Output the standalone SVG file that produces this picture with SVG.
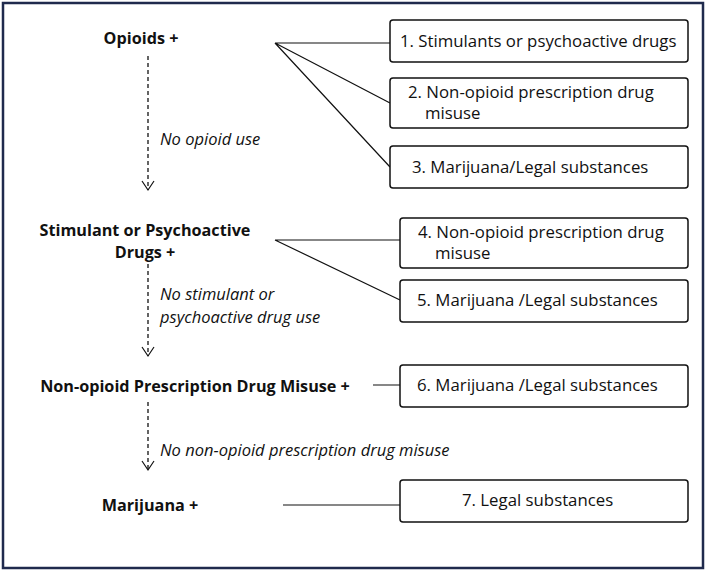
<svg xmlns="http://www.w3.org/2000/svg" width="706" height="571" viewBox="0 0 706 571">
<style>
text{font-family:"Open Sans","Liberation Sans",sans-serif;font-size:16.8px;fill:#111}
.b{font-weight:bold;font-size:16.2px}.i{font-style:italic;font-size:16.5px}
.box{fill:#fff;stroke:#111;stroke-width:1.5}
.ln{stroke:#111;stroke-width:1.2;fill:none}
.d{stroke:#111;stroke-width:1.3;stroke-dasharray:4,3;fill:none}
</style>
<defs><marker id="a" markerWidth="12" markerHeight="14" refX="10" refY="7" orient="auto" markerUnits="userSpaceOnUse"><path d="M1,1 L10,7 L1,13" fill="none" stroke="#111" stroke-width="1.2"/></marker></defs>
<rect x="3" y="3" width="700" height="565" fill="#fff" stroke="#1f2a4d" stroke-width="2.5"/>
<g id="connectors">
<path class="ln" d="M275,43 L390,43 M275,43 L390,103 M275,43 L390,167 M275,240 L400,240 M275,240 L400,300 M373,385 L400,385 M283,505 L400,505"/>
<path class="d" d="M148,56 V190" marker-end="url(#a)"/>
<path class="d" d="M148,264 V356" marker-end="url(#a)"/>
<path class="d" d="M148,402 V470" marker-end="url(#a)"/>
<text class="i" x="160" y="145">No opioid use</text>
<text class="i" x="160" y="300">No stimulant or</text>
<text class="i" x="160" y="323">psychoactive drug use</text>
<text class="i" x="160" y="456">No non-opioid prescription drug misuse</text>
</g>
<g id="n-opioids"><text class="b" x="141" y="44" text-anchor="middle">Opioids +</text></g>
<g id="n-stim"><text class="b" x="145" y="236" text-anchor="middle">Stimulant or Psychoactive</text><text class="b" x="145" y="258" text-anchor="middle">Drugs +</text></g>
<g id="n-nonop"><text class="b" x="195" y="392" text-anchor="middle">Non-opioid Prescription Drug Misuse +</text></g>
<g id="n-mar"><text class="b" x="150" y="511" text-anchor="middle">Marijuana +</text></g>
<g id="b1"><rect class="box" x="390" y="20" width="298" height="42" rx="3"/><text x="400" y="47">1. Stimulants or psychoactive drugs</text></g>
<g id="b2"><rect class="box" x="390" y="78" width="298" height="50" rx="3"/><text x="408" y="98">2. Non-opioid prescription drug</text><text x="425" y="119">misuse</text></g>
<g id="b3"><rect class="box" x="390" y="146" width="298" height="42" rx="3"/><text x="412" y="173">3. Marijuana/Legal substances</text></g>
<g id="b4"><rect class="box" x="400" y="218" width="288" height="50" rx="3"/><text x="418" y="238">4. Non-opioid prescription drug</text><text x="435" y="259">misuse</text></g>
<g id="b5"><rect class="box" x="400" y="280" width="288" height="42" rx="3"/><text x="417" y="306">5. Marijuana /Legal substances</text></g>
<g id="b6"><rect class="box" x="400" y="365" width="288" height="42" rx="3"/><text x="417" y="391">6. Marijuana /Legal substances</text></g>
<g id="b7"><rect class="box" x="400" y="480" width="288" height="42" rx="3"/><text x="462" y="506">7. Legal substances</text></g>
</svg>
